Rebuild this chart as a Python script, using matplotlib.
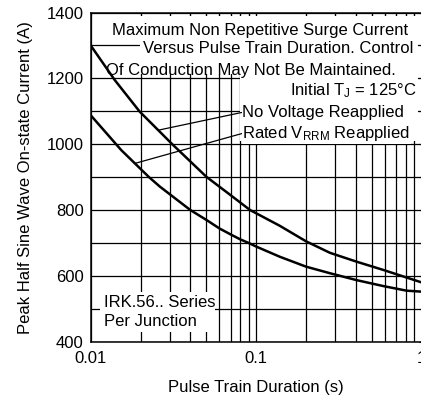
"""Peak half sine wave on-state current vs pulse train duration."""
import numpy as np

import matplotlib
matplotlib.use("Agg")
import matplotlib.pyplot as plt  # noqa: E402
from matplotlib.patches import Rectangle  # noqa: E402
from matplotlib.ticker import FixedLocator, FixedFormatter, LogLocator, NullFormatter  # noqa: E402

plt.rcParams.update({"font.family": ["Liberation Sans", "DejaVu Sans"],
                     "font.size": 12, "mathtext.default": "regular"})

# curve: no voltage reapplied
t_no_volt = [0.01, 0.01397, 0.01977, 0.0311, 0.05, 0.0697, 0.0918, 0.139, 0.2,
             0.279, 0.4046, 0.586, 1.0]
i_no_volt = [1300, 1195, 1099, 1000, 901, 846, 800, 752, 705,
             670, 643, 618, 580]
# curve: rated VRRM reapplied
t_rated = [0.01, 0.0153, 0.0225, 0.0262, 0.04, 0.05, 0.06, 0.07, 0.08, 0.09, 0.1,
           0.139, 0.2, 0.279, 0.4046, 0.586, 0.81, 1.0]
i_rated = [1088, 982, 900, 871, 800, 770, 744, 726, 711, 700, 689,
           658, 628, 608, 587, 569, 555, 552]

x_ticks = [0.01, 0.1, 1]
x_tick_labels = ["0.01", "0.1", "1"]
y_ticks = [400, 600, 800, 1000, 1200, 1400]

# where the leader lines touch each curve
t_lead_no_volt = 0.0256
t_lead_rated = 0.0185


def on_curve(t, ts, ys):
    return np.interp(np.log10(t), np.log10(ts), ys)


fig = plt.figure(figsize=(4.21, 4.01), dpi=100)
ax = fig.add_axes([0.2154, 0.1479, 0.7862, 0.8209])

ax.set_xscale("log")
ax.set_xlim(0.01, 1)
ax.set_ylim(400, 1400)
ax.xaxis.set_major_locator(FixedLocator(x_ticks))
ax.xaxis.set_major_formatter(FixedFormatter(x_tick_labels))
ax.xaxis.set_minor_locator(LogLocator(base=10, subs=np.arange(2, 10)))
ax.xaxis.set_minor_formatter(NullFormatter())
ax.set_yticks(y_ticks)
ax.set_yticks(np.arange(400, 1401, 100), minor=True)

ax.set_axisbelow(True)
ax.grid(True, which="both", color="black", lw=0.9)
ax.tick_params(which="both", left=False, bottom=False, top=True, right=True,
               direction="in", length=2.5, width=0.8, labelsize=12)
ax.tick_params(axis="x", pad=7)
ax.tick_params(axis="y", pad=5)
for s in ax.spines.values():
    s.set_linewidth(1.1)

# white areas behind the notes
for x0, y0, w, h in [(0.149, 0.813, 0.841, 0.176), (0.059, 0.929, 0.091, 0.060),
                     (0.034, 0.807, 0.116, 0.055), (0.451, 0.61, 0.539, 0.203),
                     (0.028, 0.03, 0.348, 0.121)]:
    ax.add_patch(Rectangle((x0, y0), w, h, transform=ax.transAxes,
                           facecolor="white", edgecolor="none", zorder=1))

ax.plot(t_no_volt, i_no_volt, color="black", lw=1.8, zorder=3, solid_joinstyle="round")
ax.plot(t_rated, i_rated, color="black", lw=1.8, zorder=3, solid_joinstyle="round")

note = dict(transform=ax.transAxes, fontsize=12, zorder=4, va="baseline")
ax.text(0.064, 0.932, "Maximum Non Repetitive Surge Current", ha="left", **note)
ax.text(0.158, 0.877, "Versus Pulse Train Duration. Control", ha="left", **note)
ax.text(0.046, 0.810, "Of Conduction May Not Be Maintained.", ha="left", **note)
ax.text(0.985, 0.749, "Initial T$_J$ = 125°C", ha="right", **note)
ax.text(0.04, 0.106, "IRK.56.. Series", ha="left", **note)
ax.text(0.04, 0.048, "Per Junction", ha="left", **note)

lead = dict(arrowstyle="-", lw=0.9, color="black", shrinkA=0, shrinkB=0, relpos=(0, 0.5))
box = dict(facecolor="white", edgecolor="none", pad=0.5)
ax.annotate("No Voltage Reapplied",
            xy=(t_lead_no_volt, on_curve(t_lead_no_volt, t_no_volt, i_no_volt)),
            xytext=(0.458, 0.683), textcoords="axes fraction", fontsize=12,
            va="baseline", ha="left", bbox=box, arrowprops=lead, zorder=4)
ax.annotate("Rated V$_{RRM}$ Reapplied",
            xy=(t_lead_rated, on_curve(t_lead_rated, t_rated, i_rated)),
            xytext=(0.458, 0.619), textcoords="axes fraction", fontsize=12,
            va="baseline", ha="left", bbox=box, arrowprops=lead, zorder=4)

ax.set_xlabel("Pulse Train Duration (s)", fontsize=12, labelpad=10)
ax.set_ylabel("Peak Half Sine Wave On-state Current (A)", fontsize=12, labelpad=10)

fig.savefig("out.png", dpi=100)
